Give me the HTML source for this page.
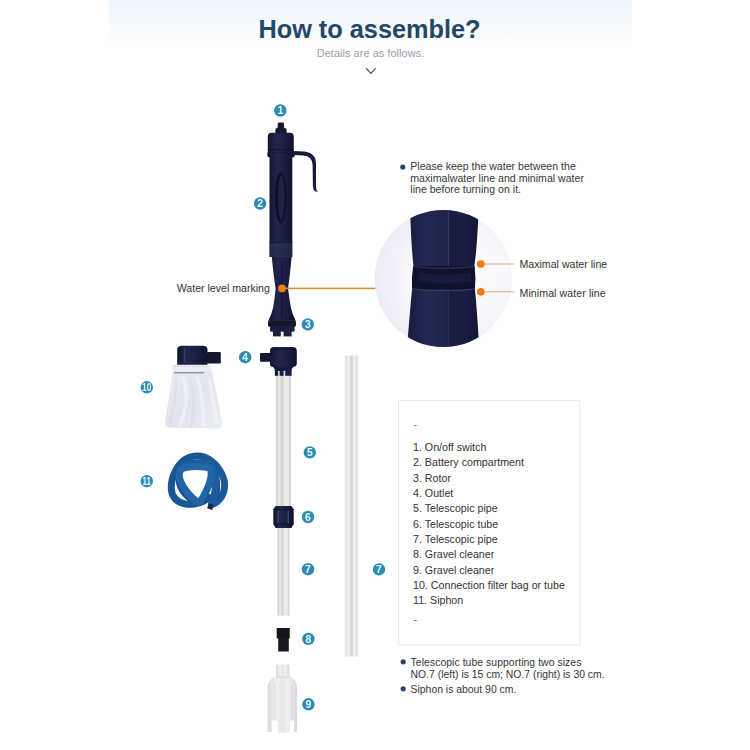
<!DOCTYPE html>
<html lang="en">
<head>
<meta charset="utf-8">
<title>How to assemble?</title>
<style>
html,body{margin:0;padding:0;background:#fff;}
body{width:750px;height:750px;position:relative;overflow:hidden;font-family:"Liberation Sans",sans-serif;color:#333;}
#top{position:absolute;left:109.300px;top:0;width:522.700px;height:60px;background:linear-gradient(#ecf5fc,#f4f9fd 35%,#fff 73%);}
#art{position:absolute;left:0;top:0;width:750px;height:750px;filter:blur(.35px);}
.t{position:absolute;white-space:nowrap;line-height:1;}
h1{position:absolute;left:-5.500px;top:14.400px;width:750px;margin:0;text-align:center;font-size:25.3px;line-height:30px;font-weight:bold;color:#234669;}
.sub{left:-4.500px;width:750px;top:47.900px;text-align:center;font-size:10.900px;letter-spacing:.07px;color:#95a0ab;}
.lbl{font-size:10.600px;color:#333;}
.list{position:absolute;left:413px;top:440.100px;margin:0;padding:0;list-style:none;font-size:10.680px;line-height:15.320px;color:#333;}
.list li{white-space:nowrap;}
.dash{font-size:11px;color:#777;}
.note{font-size:10.400px;color:#363636;line-height:13px;}
</style>
</head>
<body>
<div id="top"></div>
<svg id="art" viewBox="0 0 750 750" width="750" height="750">
<defs>
<linearGradient id="tube" x1="0" x2="1" y1="0" y2="0">
<stop offset="0" stop-color="#d2d2d0"/><stop offset=".12" stop-color="#dadad8"/><stop offset=".25" stop-color="#ececea"/><stop offset=".36" stop-color="#d3d3d1"/><stop offset=".44" stop-color="#d3d3d1"/><stop offset=".56" stop-color="#eaeae7"/><stop offset=".8" stop-color="#ececea"/><stop offset=".9" stop-color="#d8d8d4"/><stop offset="1" stop-color="#d2d2ce"/>
</linearGradient>
<linearGradient id="tube2" x1="0" x2="1" y1="0" y2="0">
<stop offset="0" stop-color="#dededc"/><stop offset=".2" stop-color="#ebebea"/><stop offset=".32" stop-color="#f0f0ef"/><stop offset=".45" stop-color="#d8d8d6"/><stop offset=".58" stop-color="#dadad8"/><stop offset=".7" stop-color="#f4f4f2"/><stop offset=".82" stop-color="#e8e8e6"/><stop offset="1" stop-color="#e0e0de"/>
</linearGradient>
<linearGradient id="navy" x1="0" x2="1" y1="0" y2="0">
<stop offset="0" stop-color="#131633"/><stop offset=".35" stop-color="#20264c"/><stop offset=".7" stop-color="#181c3f"/><stop offset="1" stop-color="#10122c"/>
</linearGradient>
<linearGradient id="navy2" x1="0" x2="1" y1="0" y2="0">
<stop offset="0" stop-color="#161a3d"/><stop offset=".3" stop-color="#222853"/><stop offset=".55" stop-color="#1d2249"/><stop offset=".57" stop-color="#171b3e"/><stop offset=".8" stop-color="#1a1e42"/><stop offset="1" stop-color="#121433"/>
</linearGradient>
<linearGradient id="clear" x1="0" x2="1" y1="0" y2="0">
<stop offset="0" stop-color="#dadade"/><stop offset=".3" stop-color="#f0f0f2"/><stop offset=".5" stop-color="#e6e6e9"/><stop offset=".7" stop-color="#f0f0f2"/><stop offset="1" stop-color="#d9d9dd"/>
</linearGradient>
<linearGradient id="bag" x1="0" x2="1" y1="0" y2="1">
<stop offset="0" stop-color="#eaecf5"/><stop offset=".5" stop-color="#e1e4ef"/><stop offset="1" stop-color="#ebedf5"/>
</linearGradient>
<radialGradient id="lens" cx=".6" cy=".5" r=".6">
<stop offset="0" stop-color="#ffffff"/><stop offset=".55" stop-color="#f8f8fc"/><stop offset="1" stop-color="#eaebf5"/>
</radialGradient>
<clipPath id="lensclip"><circle cx="443.300" cy="278.500" r="68.600"/></clipPath>
</defs>

<!-- chevron -->
<path d="M366.200 68.400 L370.900 73.300 L375.600 68.400" fill="none" stroke="#44505d" stroke-width="1.200"/>

<!-- PUMP (1,2,3) -->
<g id="pump">
<path d="M277.800 123.800 Q277.800 122.600 279.200 122.600 L282.600 122.600 Q284 122.600 284 123.800 L284.200 128 L286.400 128.600 L286.800 133.500 L275.200 133.500 L275.600 128.600 L277.600 128 Z" fill="#14172f"/>
<path d="M267.800 137 Q267.800 132.800 271.500 132.800 L290 132.800 Q293.800 132.800 293.800 137 L293.800 152.300 L294.700 152.800 L294.700 155.500 Q294.700 157.500 292.500 157.500 L269.600 157.500 Q267.400 157.500 267.400 155.500 L267.400 152.800 L267.800 152.300 Z" fill="url(#navy)"/>
<rect x="267.800" y="149" width="26" height="1.200" fill="#0d0f26" opacity=".8"/>
<rect x="267.600" y="152.300" width="27" height="1" fill="#0d0f26" opacity=".6"/>
<rect x="269.500" y="157" width="22.800" height="100" fill="url(#navy)"/>
<rect x="269.500" y="242.500" width="22.800" height="14.500" fill="#30365a" opacity=".55"/>
<rect x="269.500" y="242" width="22.800" height="1" fill="#0d0f26" opacity=".7"/>
<ellipse cx="280.700" cy="197.700" rx="5.800" ry="25.700" fill="#0d0f27"/>
<ellipse cx="281.300" cy="197.700" rx="3.300" ry="22" fill="#1d2247"/>
<path d="M293.500 151 L304 151.500 Q316 152.500 316 164 L316 186 Q316 190.500 318 191.800 Q313.200 192.200 312.900 186 L312.600 165 Q312.600 156 303 155.400 L293.500 154.900 Z" fill="#171a3a"/>
<path d="M271.800 257 L291.600 257 Q290 275 288 288.400 Q289.500 300 291 308 Q292.500 315 295.800 320.800 L268.200 320.800 Q271.500 315 273 308 Q274.500 300 275.600 288.400 Q273.500 275 271.800 257 Z" fill="url(#navy)"/>
<rect x="268" y="320.300" width="28" height="6.800" rx="2" fill="#14172f"/>
<rect x="270" y="326" width="24.600" height="5.800" rx="1.500" fill="#1a1e3f"/>
<rect x="273" y="331" width="7.800" height="5.400" fill="#1b1f3c"/>
<rect x="283.600" y="331" width="8" height="5.400" fill="#1b1f3c"/>
<rect x="281" y="262" width="1.200" height="56" fill="#0d0f27" opacity=".6"/>
</g>

<!-- OUTLET (4) + tube 5, coupling 6, tube 7 -->
<g id="stack">
<rect x="275.900" y="372" width="15.100" height="135" fill="url(#tube)"/>
<rect x="277.300" y="527" width="12.200" height="88.600" fill="url(#tube)"/>
<rect x="260" y="353" width="12" height="8.800" rx="1.200" fill="#14172f"/>
<path d="M270 351 Q270 347 274 347 L292.800 347 Q296.800 347 296.800 351 L296.800 363.500 Q296.800 366.500 293.500 366.800 L291.800 369 L274.600 369 L273 367 Q270 366.800 270 363.500 Z" fill="url(#navy)"/>
<path d="M272 349.800 Q283 347.500 295 349.800" stroke="#0d0f27" stroke-width="1" fill="none" opacity=".7"/>
<rect x="274.800" y="367" width="16.800" height="4" fill="#171b3c"/>
<rect x="274.800" y="370" width="3.300" height="5.800" fill="#191d40"/>
<rect x="279.600" y="370" width="4" height="5.800" fill="#191d40"/>
<rect x="285.200" y="370" width="6.400" height="5.800" fill="#191d40"/>
<path d="M275.600 506 L291.400 506 L293.700 509.300 L293.700 524 L291.400 528 L275.600 528 L273.300 524 L273.300 509.300 Z" fill="url(#navy)"/>
<rect x="277.600" y="510.500" width="1.200" height="13" fill="#5a6290" opacity=".7"/>
<rect x="287.600" y="510.500" width="1.200" height="13" fill="#5a6290" opacity=".7"/>
<rect x="273.300" y="509" width="20.400" height="1" fill="#0e1029" opacity=".8"/>
<rect x="273.300" y="523.500" width="20.400" height="1" fill="#0e1029" opacity=".8"/>
</g>

<!-- part 8 -->
<rect x="276.700" y="628" width="13" height="10.500" fill="#14141c"/>
<rect x="278.200" y="638" width="10.600" height="13.500" fill="#191921"/>

<!-- part 9 -->
<g id="p9">
<rect x="276" y="664.600" width="13.400" height="13" rx="1.200" fill="url(#clear)"/>
<path d="M276 676.600 L289.400 676.600 Q297 678.500 297 688 L297 732 L294 732 L294 720.500 L289.800 720.500 L289.800 732.800 L277.800 732.800 L277.800 720.500 L271.800 720.500 L271.800 732 L267.600 732 L267.600 688 Q267.600 678.500 276 676.600 Z" fill="url(#clear)"/>
<path d="M276 677.200 L289.400 677.200" stroke="#d2d2d7" stroke-width=".8" fill="none"/>
<path d="M274.800 684 L274.800 720 M291.800 684 L291.800 720" stroke="#d6d6db" stroke-width=".8" fill="none"/>
</g>

<!-- right tube 7 -->
<rect x="344.900" y="355.600" width="13" height="301" fill="url(#tube2)"/>

<!-- filter bag (10) -->
<g id="bag10">
<path d="M173.500 368 L211 368 C214.500 385 219 404 222 422 Q223 428.500 219 428.500 L170 427.500 Q164.500 427 165.300 421 C168 402 171 384 173.500 368 Z" fill="url(#bag)"/>
<path d="M184 378 Q190 400 180 425 M197 376 Q204 398 203 426 M210 380 Q213 402 217 423" fill="none" stroke="#f9fafd" stroke-width="3.500" opacity=".5" stroke-linecap="round"/>
<path d="M176 380 Q176 400 170 423 M190.500 380 Q196 402 191.500 426" fill="none" stroke="#d9dcea" stroke-width="2.500" opacity=".7" stroke-linecap="round"/>
<rect x="172" y="364.500" width="39.300" height="6.500" rx="1.500" fill="#eceef4"/>
<path d="M174 366.500 L209 366.500" stroke="#c9ccd8" stroke-width="1.200" stroke-dasharray="2 1.500" opacity=".8"/>
<rect x="174" y="372" width="30" height="1.400" fill="#7f8290" opacity=".85"/>
<rect x="207" y="352" width="13.800" height="11.400" rx="1.200" fill="#14172f"/>
<path d="M177.200 349.500 Q177.200 345.700 182 345.700 L203 345.700 Q207.500 345.700 207.500 349.500 L207.500 364.700 L177.200 364.700 Z" fill="url(#navy)"/>
<rect x="183.800" y="348" width="1.500" height="15" fill="#4b5382" opacity=".6"/>
</g>

<!-- hose (11) -->
<g id="hose" transform="translate(165 450) scale(.08667)" fill="none" stroke-linecap="round" stroke-linejoin="round" stroke-width="80">
<path d="M500 105 C440 60 330 50 230 110 C120 190 70 330 72 440 C76 540 130 600 230 622 C330 640 440 610 505 545" stroke="#1a5593"/>
<path d="M500 105 C600 160 685 290 688 400 C690 500 640 590 555 622" stroke="#1b5998"/>
<path d="M225 175 C300 130 470 130 540 170" stroke="#1d5d9d" stroke-width="70"/>
<path d="M560 230 C615 320 620 450 585 560" stroke="#184f8a" stroke-width="60"/>
<path d="M545 215 C600 330 590 480 535 625" stroke="#1d5e9f"/>
<path d="M535 625 L515 682" stroke="#1a2a4e" stroke-width="62" stroke-linecap="butt"/>
<path d="M150 350 C160 450 225 535 320 592" stroke="#1b5796" stroke-width="56"/>
<path d="M180 225 C122 330 245 505 375 600" stroke="#2166a7"/>
<path d="M525 215 C555 300 500 450 410 590" stroke="#2065a5"/>
<path d="M182 225 C250 185 450 180 525 215" stroke="#2268a9"/>
<path d="M375 600 L410 590" stroke="#2065a5"/>
</g>

<!-- magnifier lens -->
<circle cx="443.300" cy="278.500" r="68.600" fill="url(#lens)"/>
<g clip-path="url(#lensclip)">
<path d="M409.800 200 L479 200 Q477.500 245 474.300 266 L475 290 Q477.500 315 479.500 355 L406.500 355 Q409.500 315 412 290 L413.500 266 Q411 245 409.800 200 Z" fill="url(#navy2)"/>
<path d="M413.200 266.100 L474.600 266.100 Q476 278 475 289.600 L412 289.600 Q411.300 278 413.200 266.100 Z" fill="#10122c"/>
<path d="M413.200 266.600 Q444 270 474.600 266.600" stroke="#3a416b" stroke-width="1" fill="none" opacity=".8"/>
<path d="M412 288.800 Q444 292.500 475 288.800" stroke="#3a416b" stroke-width="1.200" fill="none" opacity=".8"/>
<path d="M418 277 Q444 281 471 277" stroke="#1d2249" stroke-width="9" fill="none" opacity=".55"/>
<rect x="447.800" y="200" width="1.300" height="66" fill="#39406c" opacity=".8"/>
<rect x="447.800" y="290" width="1.300" height="66" fill="#39406c" opacity=".5"/>
</g>

<!-- orange callouts -->
<rect x="285" y="287.600" width="90.300" height="1.600" fill="#cd8e40"/>
<circle cx="282" cy="288.400" r="3.900" fill="#f07d1a"/>
<rect x="481" y="263.500" width="33" height="1" fill="#dcae84"/>
<rect x="481" y="291.300" width="33" height="1" fill="#dcae84"/>
<circle cx="480.800" cy="264" r="3.850" fill="#f07c14"/>
<circle cx="480.800" cy="291.800" r="3.850" fill="#f07c14"/>

<!-- info box -->
<rect x="398.500" y="400.500" width="181.300" height="244.500" fill="#fff" stroke="#eaeaea" stroke-width="1"/>

<!-- bullets -->
<circle cx="402.800" cy="167" r="2.600" fill="#24436b"/>
<circle cx="403.200" cy="661.800" r="2.600" fill="#24436b"/>
<circle cx="403.200" cy="688.800" r="2.600" fill="#24436b"/>

<!-- number badges -->
<g font-family="Liberation Sans, sans-serif" font-size="10.500" font-weight="bold" fill="#e6f6fc" text-anchor="middle">
<g fill="#2b8db3"><circle cx="280.3" cy="110.5" r="6.200"/><circle cx="260.1" cy="203.5" r="6.200"/><circle cx="307.8" cy="324.4" r="6.200"/><circle cx="245.2" cy="357.2" r="6.200"/><circle cx="309.8" cy="452.4" r="6.200"/><circle cx="308" cy="517" r="6.200"/><circle cx="308" cy="569.2" r="6.200"/><circle cx="379" cy="569.4" r="6.200"/><circle cx="308.4" cy="638.9" r="6.200"/><circle cx="308.4" cy="704.3" r="6.200"/><circle cx="146.8" cy="387.3" r="6.200"/><circle cx="146.8" cy="481.2" r="6.200"/></g>
<text x="280.3" y="114.3">1</text>
<text x="260.1" y="207.3">2</text>
<text x="307.8" y="328.2">3</text>
<text x="245.2" y="361.0">4</text>
<text x="309.8" y="456.2">5</text>
<text x="308" y="520.8">6</text>
<text x="308" y="573.0">7</text>
<text x="379" y="573.2">7</text>
<text x="308.4" y="642.7">8</text>
<text x="308.4" y="708.1">9</text>
<text x="146.800" y="391.100" textLength="9.400" lengthAdjust="spacingAndGlyphs">10</text>
<text x="146.800" y="485" textLength="8.600" lengthAdjust="spacingAndGlyphs">11</text>
</g>
</svg>

<h1>How to assemble?</h1>
<div class="t sub">Details are as follows.</div>

<div class="t lbl" style="left:176.700px;top:282.500px;">Water level marking</div>
<div class="t lbl" style="left:519.500px;top:259.100px;">Maximal water line</div>
<div class="t lbl" style="left:519.500px;top:287.700px;letter-spacing:.08px;">Minimal water line</div>

<div class="t note" style="left:410.300px;top:161.200px;line-height:11.400px;color:#363636;white-space:normal;width:200px;font-size:10.600px;">Please keep the water between the<br>maximalwater line and minimal water<br>line before turning on it.</div>

<div class="t dash" style="left:413.500px;top:419.200px;">-</div>
<ul class="list">
<li>1. On/off switch</li>
<li>2. Battery compartment</li>
<li>3. Rotor</li>
<li>4. Outlet</li>
<li>5. Telescopic pipe</li>
<li>6. Telescopic tube</li>
<li>7. Telescopic pipe</li>
<li>8. Gravel cleaner</li>
<li>9. Gravel cleaner</li>
<li>10. Connection filter bag or tube</li>
<li>11. Siphon</li>
</ul>
<div class="t dash" style="left:413.500px;top:614.400px;">-</div>

<div class="t note" style="left:410.600px;top:655.600px;letter-spacing:.06px;">Telescopic tube supporting two sizes</div>
<div class="t note" style="left:410.600px;top:667.900px;">NO.7 (left) is 15 cm; NO.7 (right) is 30 cm.</div>
<div class="t note" style="left:410.600px;top:682.900px;">Siphon is about 90 cm.</div>
</body>
</html>
